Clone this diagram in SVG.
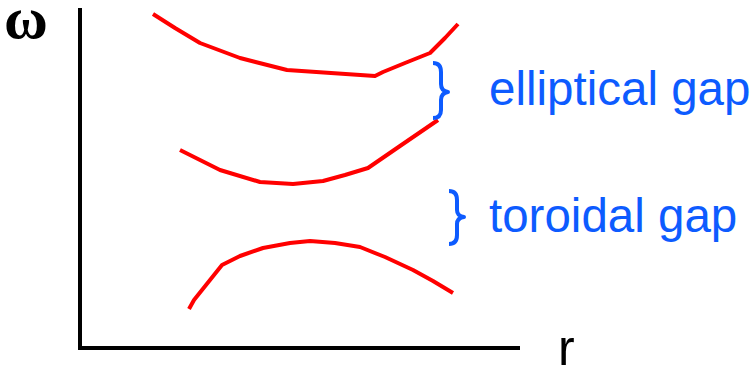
<svg xmlns="http://www.w3.org/2000/svg" width="751" height="366" viewBox="0 0 751 366">
<style>
.axis{fill:none;stroke:#000;stroke-width:4;stroke-linecap:butt;stroke-linejoin:miter}
.curve{fill:none;stroke:#ff0000;stroke-width:4;stroke-linecap:butt;stroke-linejoin:round}
.brace{fill:none;stroke:#0d5bff;stroke-width:4;stroke-linecap:butt;stroke-linejoin:round}
.lbl{font-family:"Liberation Sans",Arial,sans-serif;font-size:47.5px;fill:#0d5bff}
</style>
<rect width="751" height="366" fill="#fff"/>
<g id="axes">
<path class="axis" d="M80,8 V348 H520"/>
<text x="4" y="38" style="font-family:'Liberation Serif','Times New Roman',serif;font-size:60px;font-weight:bold;fill:#000">ω</text>
<text x="558" y="365" style="font-family:'Liberation Sans',Arial,sans-serif;font-size:50px;fill:#000">r</text>
</g>
<g id="curves">
<polyline id="band-top" class="curve" points="153,14 175,28 200,43 240,58 287,70 375,76 383,72 405,63 430,53 445,38 458,24"/>
<polyline id="band-middle" class="curve" points="180,150 200,160 220,170 260,182 293,184 323,181 345,175 368,168 400,146 438,120"/>
<polyline id="band-bottom" class="curve" points="189,309 194,300 222,265 240,256 263,248 290,243 310,241 335,243 360,247 385,257 413,270 433,281 453,293"/>
</g>
<g id="elliptical-gap">
<path class="brace" d="M433,63 Q441,63 441,72 V84 Q441,91 448,92 Q441,93 441,100 V110 Q441,118 433,118"/>
<text class="lbl" x="489" y="105">elliptical gap</text>
</g>
<g id="toroidal-gap">
<path class="brace" d="M449,191 Q457,191 457,200 V210 Q457,216 464,217 Q457,218 457,224 V235 Q457,244 449,244"/>
<text class="lbl" x="489" y="232">toroidal gap</text>
</g>
</svg>
